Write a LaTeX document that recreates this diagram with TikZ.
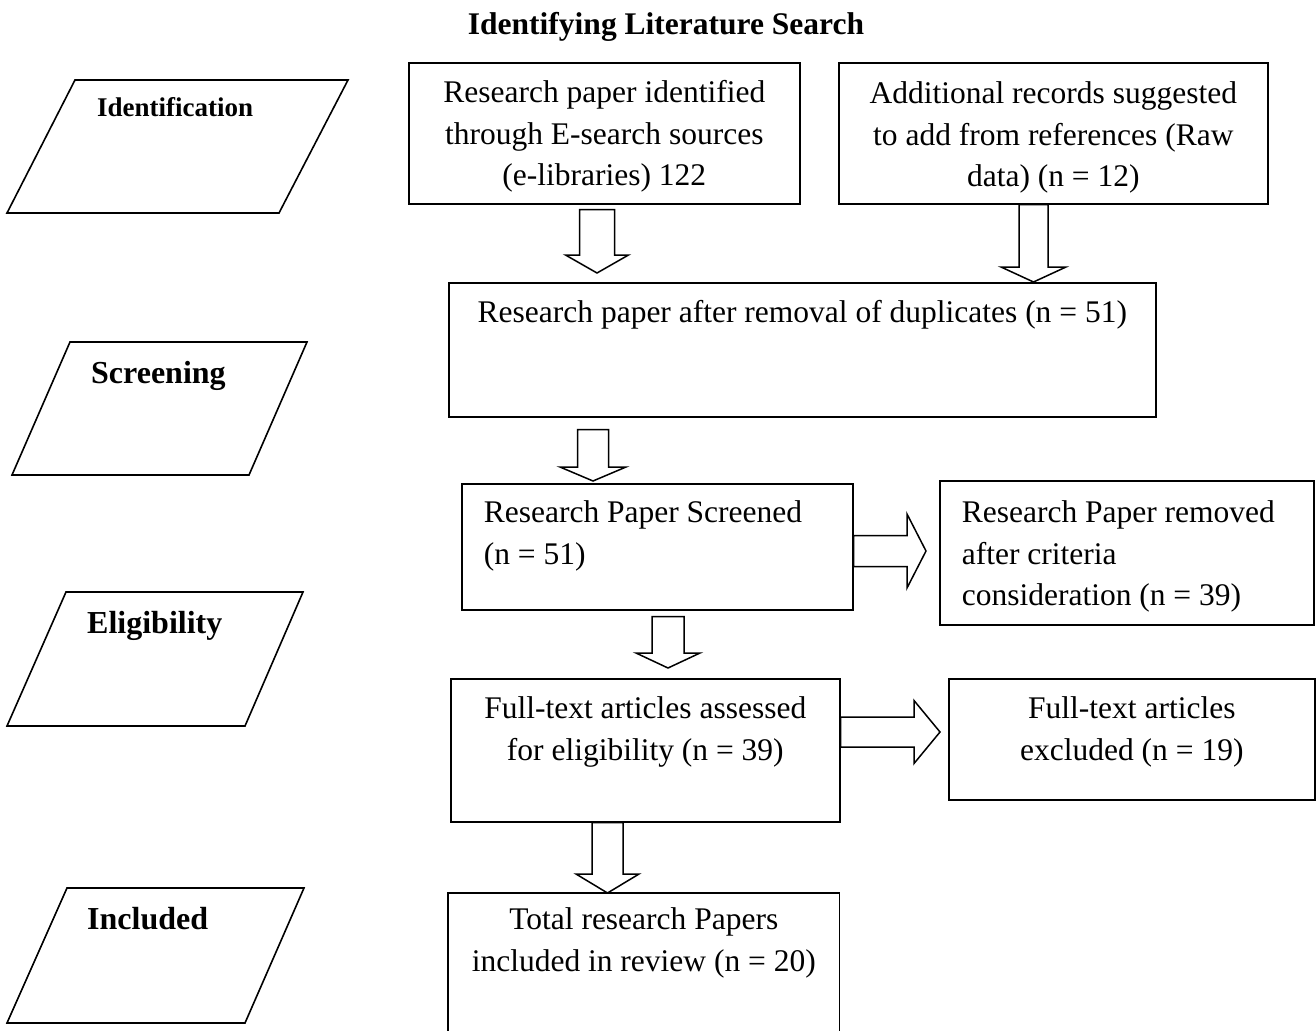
\documentclass[tikz,border=0pt]{standalone}
\usepackage{fontspec}
\setmainfont{Liberation Serif}
\usetikzlibrary{calc}
% down block arrow: #1 x centre, #2 source, #3 target, #4 gap at start, #5 gap at tip, #6 half shaft, #7 half head, #8 head length
\newcommand\blkdn[8]{%
  \draw[blkarrow] let \p1=(#2.south), \p2=(#3.north) in
    (#1pt-#6pt,\y1-#4pt) -- (#1pt-#6pt,\y2+#5pt+#8pt) -- (#1pt-#7pt,\y2+#5pt+#8pt)
    -- (#1pt,\y2+#5pt) -- (#1pt+#7pt,\y2+#5pt+#8pt) -- (#1pt+#6pt,\y2+#5pt+#8pt)
    -- (#1pt+#6pt,\y1-#4pt) -- cycle;}
% right block arrow: #1 y centre (downwards), #2 source, #3 target, #4 gap at start, #5 gap at tip, #6 half shaft, #7 half head, #8 head length
\newcommand\blkrt[8]{%
  \draw[blkarrow] let \p1=(#2.east), \p2=(#3.west) in
    (\x1+#4pt,-#1pt+#6pt) -- (\x2-#5pt-#8pt,-#1pt+#6pt) -- (\x2-#5pt-#8pt,-#1pt+#7pt)
    -- (\x2-#5pt,-#1pt) -- (\x2-#5pt-#8pt,-#1pt-#7pt) -- (\x2-#5pt-#8pt,-#1pt-#6pt)
    -- (\x1+#4pt,-#1pt-#6pt) -- cycle;}
% box contents: #1 width, #2 height, #3 top padding, #4 text
\newcommand\boxtxt[4]{\parbox[t][#2pt][t]{#1pt}{\vspace*{#3pt}#4}}
\tikzset{
  flowbox/.style={draw, line width=1.6pt, inner sep=0pt, anchor=north west,
    font=\fontsize{31.5}{41.5}\selectfont},
  blkarrow/.style={draw, line width=1.5pt, line join=miter},
  plg/.style={draw, line width=1.6pt, line join=miter},
  stage/.style={font=\bfseries\fontsize{32}{38}\selectfont, anchor=base west, inner sep=0pt},
}
\begin{document}
\begin{tikzpicture}[x=1pt, y=-1pt]
\useasboundingbox (0,0) rectangle (1316,1030);
\fill[white] (0,0) rectangle (1316,1030);

% title
\node[font=\bfseries\fontsize{31.5}{38}\selectfont, anchor=base, inner sep=0pt] (title) at (666,35) {Identifying Literature Search};

% stage parallelograms
\draw[plg] (75,80) -- (348,80) -- (279,213) -- (7,213) -- cycle;
\draw[plg] (70,342) -- (307,342) -- (249,475) -- (12,475) -- cycle;
\draw[plg] (66,592) -- (303,592) -- (245,726) -- (7,726) -- cycle;
\draw[plg] (67,888) -- (304,888) -- (245,1023) -- (7,1023) -- cycle;
\node[stage, font=\bfseries\fontsize{27}{32}\selectfont] (lid) at (97,117) {Identification};
\node[stage] (lsc) at (91,383) {Screening};
\node[stage] (lel) at (87,633) {Eligibility};
\node[stage] (lin) at (87,929) {Included};

% boxes
\node[flowbox] (A) at (408,62) {\boxtxt{391}{141}{11}{\centering\strut Research paper identified\\through E-search sources\\(e-libraries) 122}};
\node[flowbox] (B) at (838,62) {\boxtxt{429}{141}{12}{\centering\strut Additional records suggested\\to add from references (Raw\\data) (n = 12)}};
\node[flowbox] (C) at (448,282) {\boxtxt{707}{134}{11}{\centering\strut Research paper after removal of duplicates (n = 51)}};
\node[flowbox] (D) at (461,483) {\boxtxt{391}{126}{10}{\raggedright\leftskip=22pt\strut Research Paper Screened\\(n = 51)}};
\node[flowbox] (E) at (939,480) {\boxtxt{374}{144}{13}{\raggedright\leftskip=22pt\strut Research Paper removed\\after criteria\\consideration (n = 39)}};
\node[flowbox] (F) at (450,678) {\boxtxt{389}{143}{11}{\centering\strut Full-text articles assessed\\for eligibility (n = 39)}};
\node[flowbox] (G) at (948,678) {\boxtxt{366}{121}{11}{\centering\strut Full-text articles\\excluded (n = 19)}};
\node[flowbox, draw=none] (H) at (448,893) {\boxtxt{390}{137}{7}{\centering\strut Total research Papers\\included in review (n = 20)}};
\draw[line width=1.6pt] (H.south west) -- (H.north west) -- (H.north east) -- (H.south east);

% block arrows
\blkdn{597}{A}{C}{5}{9}{17.5}{31.5}{18}
\blkdn{1033.5}{B}{C}{0}{0}{14.5}{32.5}{15}
\blkdn{593}{C}{D}{12}{2}{15.5}{33}{14}
\blkdn{668}{D}{F}{6}{10}{16}{32}{15}
\blkdn{607.5}{F}{H}{0}{0}{15.5}{31.5}{19}
\blkrt{551}{D}{E}{0}{13}{15.5}{37}{19}
\blkrt{732}{F}{G}{0}{8}{15}{31.5}{26}
\end{tikzpicture}
\end{document}
